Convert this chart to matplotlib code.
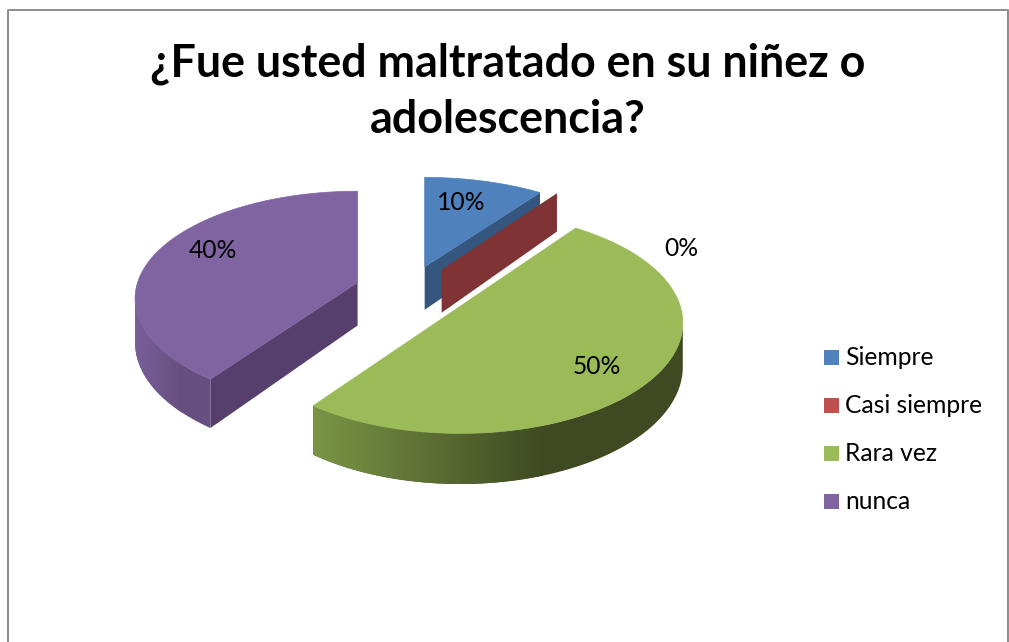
import numpy as np
import matplotlib
matplotlib.use('Agg')
from matplotlib import pyplot as plt
from matplotlib.colors import LinearSegmentedColormap
from matplotlib.patches import Polygon, Rectangle

title = '¿Fue usted maltratado en su niñez o\nadolescencia?'
categories = ['Siempre', 'Casi siempre', 'Rara vez', 'nunca']
values = [10, 0, 50, 40]
labels = ['10%', '0%', '50%', '40%']

top_colors = ['#4F81BD', '#C0504D', '#9BBB59', '#8064A2']
wall_colors = ['#35577F', '#7F3334', '#3F4A22', '#563F6D']
# rim colours, left end and right end of the shading
rim_colors = [('#35577F', '#35577F'), ('#7F3334', '#7F3334'),
              ('#7A9546', '#3F4A22'), ('#7A5F9A', '#67507F')]
label_pos = [(461, 202), (681, 249), (597, 367), (213, 251)]
# small corrections per slice, the original has real perspective
nudge_x = [-5, -4, 2, 0]
nudge_y = [2, 1, -1, 0]
ry_scale = [0.97, 1.0, 1.02, 0.99]

CX, CY = 412, 291       # pie centre before exploding
RX, RY = 220, 106
PERSP = 0.15            # near side of the pie is drawn bigger
EXPLODE = 0.26
DEPTH = 43


def project(u, v, cx, cy, scale=1.0, low=False):
	'''unit disc to pixels, low=True gives the bottom face'''
	w = 1 + PERSP * v
	x = cx + RX * u / w
	y = cy - RY * scale * v / w
	if low:
		y = y + DEPTH / w
	return x, y


fig = plt.figure(figsize=(10.09, 6.42), dpi=100, facecolor='white')
ax = fig.add_axes([0, 0, 1, 1])

# chart border
ax.plot([8, 8, 1008, 1008], [642, 10, 10, 642], color='#8C8C8C', lw=1.4)

ax.text(508, 92, title, ha='center', va='center', fontsize=32.3,
		fontweight='bold', family='Lato', linespacing=1.42)

total = float(sum(values))
bounds = np.cumsum([0] + values) / total * 2 * np.pi
draw_order = [0, 1, 3, 2]

for i in draw_order:
	a0, a1 = bounds[i], bounds[i + 1]
	mid = (a0 + a1) / 2
	cx = CX + EXPLODE * RX * np.sin(mid) + nudge_x[i]
	cy = CY - EXPLODE * RY * np.cos(mid) + nudge_y[i]
	s = ry_scale[i]
	z = 2 + i

	# flat walls, the end of a slice shows on the right, the start on the left
	for a, seen in [(a1, 0 < np.sin(a1)), (a0, np.sin(a0) < 0)]:
		if seen:
			ox, oy = project(np.sin(a), np.cos(a), cx, cy, s)
			lx, ly = project(np.sin(a), np.cos(a), cx, cy, s, low=True)
			ax.add_patch(Polygon([(cx, cy), (ox, oy), (lx, ly), (cx, cy + DEPTH)],
								 closed=True, fc=wall_colors[i], ec='none', zorder=z))

	if a1 == a0:
		continue

	t = np.linspace(a0, a1, max(2, int((a1 - a0) * 120)))
	tx, ty = project(np.sin(t), np.cos(t), cx, cy, s)

	# rim only where it faces the viewer, shaded from left to right
	front = t[np.cos(t) <= -PERSP]
	if len(front) > 1:
		fx, fy = project(np.sin(front), np.cos(front), cx, cy, s)
		bx, by = project(np.sin(front), np.cos(front), cx, cy, s, low=True)
		rim = Polygon(np.vstack([np.column_stack([fx, fy]),
								 np.column_stack([bx, by])[::-1]]),
					  closed=True, fc=rim_colors[i][1], ec='none', zorder=z)
		ax.add_patch(rim)
		cmap = LinearSegmentedColormap.from_list('rim', rim_colors[i])
		x0, x1 = fx.min(), fx.min() + 0.62 * np.ptp(fx)
		img = ax.imshow(np.linspace(0, 1, 256)[None, :], cmap=cmap, aspect='auto',
						extent=(x0, x1, by.max(), fy.min()), zorder=z + 0.1,
						interpolation='bilinear')
		img.set_clip_path(rim)

	# top face
	ax.add_patch(Polygon([(cx, cy)] + list(zip(tx, ty)), closed=True,
						 fc=top_colors[i], ec=top_colors[i], lw=0.5, zorder=z + 0.5))

for (x, y), lab in zip(label_pos, labels):
	ax.text(x, y, lab, ha='center', va='center', fontsize=17.7, family='Lato', zorder=10)

legend_y = [357.5, 405.5, 453.5, 501.5]
for name, col, y in zip(categories, top_colors, legend_y):
	ax.add_patch(Rectangle((824, y - 7.5), 15, 15, fc=col, ec='none'))
	ax.text(845, y, name, ha='left', va='center', fontsize=17.7, family='Lato')

ax.set_xlim(0, 1009)
ax.set_ylim(642, 0)
ax.axis('off')

fig.savefig('out.png', dpi=100)
